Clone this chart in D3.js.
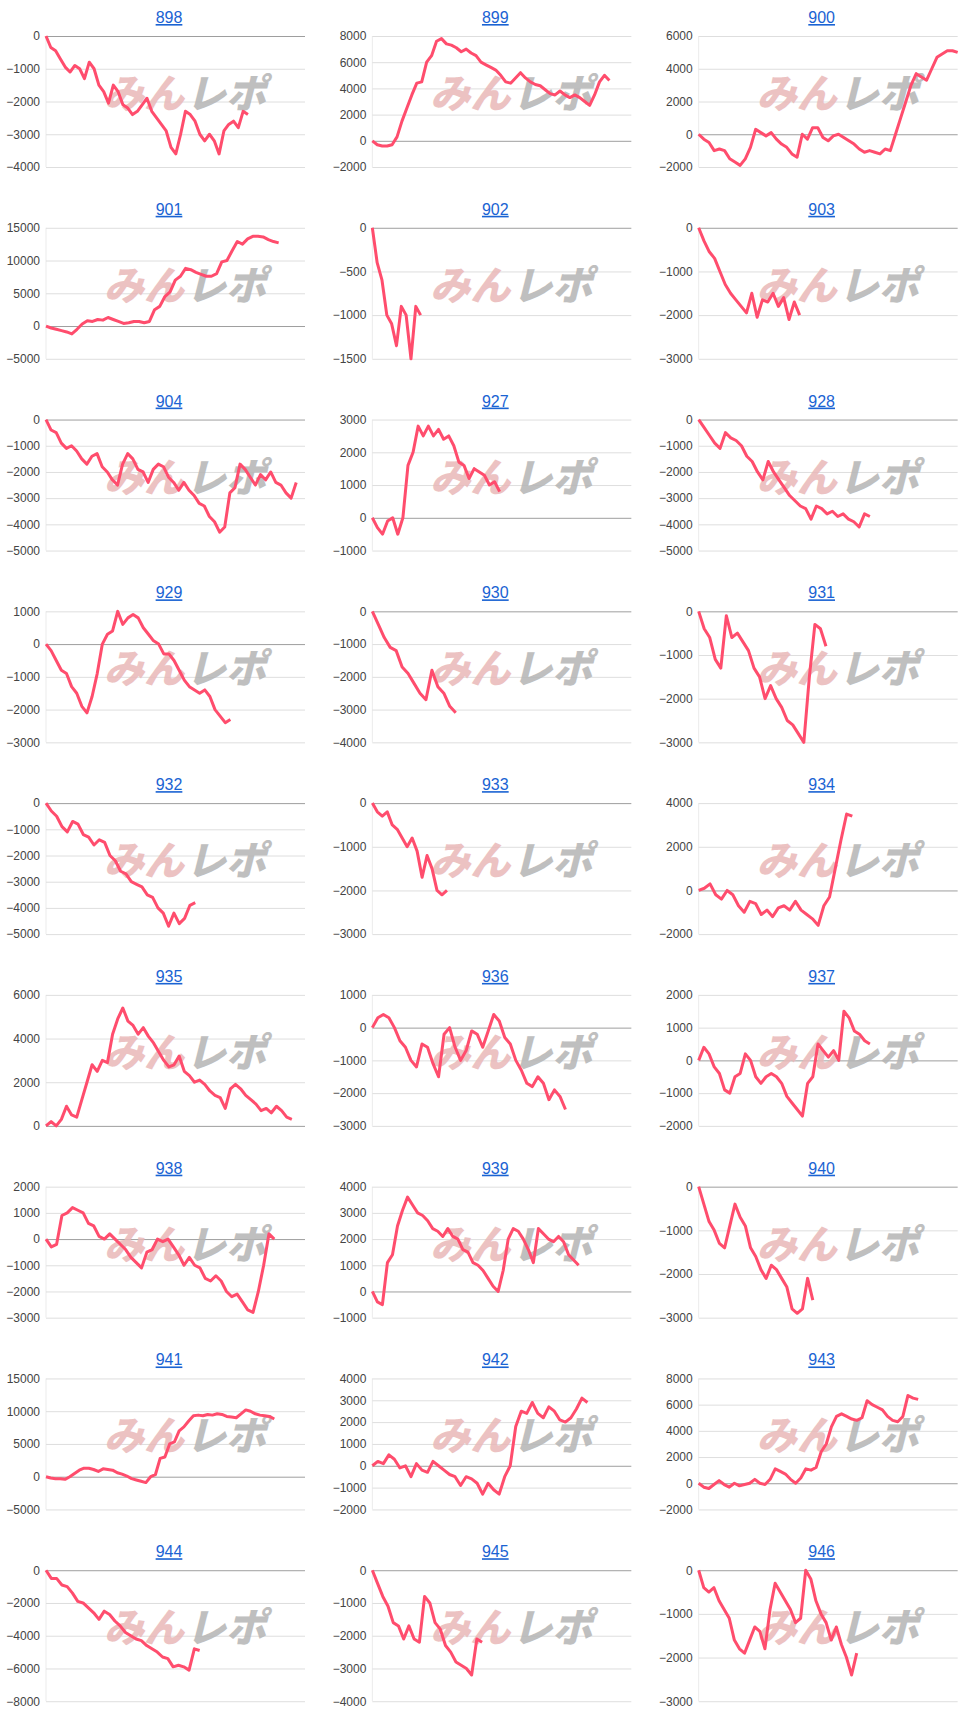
<!DOCTYPE html>
<html><head><meta charset="utf-8">
<script src="https://cdn.jsdelivr.net/npm/d3@7"></script>
<style>body{margin:0;background:#fff}svg{display:block}</style>
</head><body>
<script>
const titles=["898","899","900","901","902","903","904","927","928","929","930","931","932","933","934","935","936","937","938","939","940","941","942","943","944","945","946"];
const yDomains=[[-4000,0],[-2000,8000],[-2000,6000],[-5000,15000],[-1500,0],[-3000,0],[-5000,0],[-1000,3000],[-5000,0],[-3000,1000],[-4000,0],[-3000,0],[-5000,0],[-3000,0],[-2000,4000],[0,6000],[-3000,1000],[-2000,2000],[-3000,2000],[-1000,4000],[-3000,0],[-5000,15000],[-2000,4000],[-2000,8000],[-8000,0],[-4000,0],[-3000,0]];
const tickSteps=[1000,2000,2000,5000,500,1000,1000,1000,1000,1000,1000,1000,1000,1000,2000,2000,1000,1000,1000,1000,1000,5000,1000,2000,2000,1000,1000];
const lastSlot=[46,54,59,53,11,23,57,29,39,42,19,29,34,17,35,56,44,39,52,47,26,52,49,50,35,25,36];
const series=[
[0,-350,-450,-700,-950,-1100,-900,-1000,-1300,-800,-1000,-1500,-1700,-2050,-1500,-1700,-2100,-2200,-2400,-2300,-2100,-1900,-2300,-2500,-2700,-2900,-3400,-3600,-3000,-2300,-2400,-2600,-3000,-3200,-3000,-3200,-3600,-2900,-2700,-2600,-2800,-2300,-2400],
[0,-300,-400,-400,-300,300,1500,2500,3500,4400,4500,6000,6500,7600,7800,7400,7300,7100,6800,7000,6700,6500,6000,5800,5600,5400,5000,4500,4400,4800,5200,4800,4500,4300,4200,3900,3600,3500,3800,3500,3300,3500,3300,3000,2700,3500,4500,5000,4600],
[0,-300,-500,-1000,-900,-1000,-1500,-1700,-1900,-1500,-800,300,100,-100,100,-300,-600,-800,-1200,-1400,0,-300,400,400,-200,-400,-100,0,-200,-400,-600,-900,-1100,-1000,-1100,-1200,-900,-1000,0,1000,2000,3000,3700,3500,3300,4000,4700,4900,5100,5100,5000],
[0,-300,-500,-700,-900,-1200,-500,300,800,700,1000,900,1300,1000,700,400,500,700,700,500,700,2500,3000,4500,5200,7000,7600,8800,8600,8200,7900,7600,7600,8000,9800,10000,11500,12900,12500,13300,13700,13700,13600,13200,12900,12700],
[0,-400,-600,-1000,-1100,-1350,-900,-1000,-1500,-900,-1000],
[0,-300,-550,-700,-1000,-1300,-1500,-1650,-1800,-1950,-1500,-2050,-1650,-1700,-1500,-1800,-1600,-2100,-1700,-2000],
[0,-400,-500,-900,-1100,-1000,-1200,-1500,-1700,-1400,-1300,-1800,-2000,-2300,-2500,-1700,-1300,-1500,-1900,-2000,-2400,-1900,-1700,-1800,-2200,-2400,-2700,-2400,-2700,-2900,-3200,-3300,-3700,-3900,-4300,-4100,-2800,-2600,-1700,-1900,-2200,-2500,-2100,-2300,-2000,-2400,-2500,-2800,-3000,-2400],
[0,-300,-500,-100,0,-500,0,1600,2000,2800,2500,2800,2500,2700,2400,2500,2200,1700,1600,1200,1500,1400,1300,1000,1100,800],
[0,-300,-600,-900,-1100,-500,-700,-800,-1000,-1400,-1600,-2000,-2300,-1600,-2000,-2300,-2600,-2900,-3100,-3300,-3400,-3800,-3300,-3400,-3600,-3500,-3700,-3600,-3800,-3900,-4100,-3600,-3700],
[0,-200,-500,-800,-900,-1300,-1500,-1900,-2100,-1600,-900,0,300,400,1000,600,800,900,800,500,300,100,0,-300,-300,-500,-800,-1100,-1300,-1400,-1500,-1400,-1600,-2000,-2200,-2400,-2300],
[0,-400,-800,-1100,-1200,-1700,-1900,-2200,-2500,-2700,-1800,-2300,-2500,-2900,-3100],
[0,-400,-600,-1100,-1300,-100,-600,-500,-700,-900,-1300,-1500,-2000,-1700,-2000,-2200,-2500,-2600,-2800,-3000,-1500,-300,-400,-800],
[0,-300,-500,-900,-1100,-700,-800,-1200,-1300,-1600,-1400,-1500,-2000,-2200,-2600,-2700,-3000,-3100,-3200,-3500,-3600,-4000,-4200,-4700,-4200,-4600,-4400,-3900,-3800],
[0,-200,-300,-200,-500,-600,-800,-1000,-800,-1100,-1700,-1200,-1500,-2000,-2100,-2000],
[0,100,300,-200,-400,0,-200,-700,-1000,-500,-600,-1100,-900,-1200,-800,-700,-900,-500,-900,-1100,-1300,-1600,-700,-300,1000,2300,3500,3400],
[0,200,0,300,900,500,400,1200,2000,2800,2500,3000,2900,4200,4900,5400,4800,4600,4200,4500,4100,3800,3400,3000,2700,2800,3200,2500,2300,2000,2100,1900,1600,1400,1300,800,1700,1900,1700,1400,1200,1000,700,800,600,900,700,400,300],
[0,300,400,300,0,-400,-600,-1000,-1200,-500,-600,-1100,-1500,-200,0,-600,-1000,-700,-100,-200,-600,-100,400,200,-300,-500,-1000,-1300,-1700,-1800,-1500,-1700,-2200,-1900,-2100,-2500],
[0,400,200,-200,-400,-900,-1000,-500,-400,200,0,-500,-700,-500,-400,-500,-700,-1100,-1300,-1500,-1700,-700,-500,500,300,100,300,0,1500,1300,900,800,600,500],
[0,-300,-200,900,1000,1200,1100,1000,600,500,100,0,200,0,-200,-400,-700,-900,-1100,-500,-400,0,-100,0,-300,-600,-1000,-700,-1000,-1100,-1500,-1600,-1400,-1600,-2000,-2200,-2100,-2400,-2700,-2800,-2000,-1000,200,0],
[0,-400,-500,1100,1400,2500,3100,3600,3300,3000,2900,2700,2400,2300,2100,2400,2100,2000,1600,1500,1100,1000,800,500,200,0,800,2000,2400,2300,2000,1600,1100,2400,2200,2000,1900,2100,1900,1400,1200,1000],
[0,-400,-800,-1000,-1300,-1400,-900,-400,-700,-900,-1400,-1600,-1900,-2100,-1800,-1900,-2100,-2300,-2800,-2900,-2800,-2100,-2600],
[0,-200,-300,-300,-400,0,500,1000,1300,1300,1100,800,1200,1100,1000,600,400,100,-300,-500,-700,-900,0,300,2800,3000,5000,5300,7000,7600,8500,9300,9400,9300,9500,9400,9600,9500,9200,9100,9000,9600,10200,10000,9600,9400,9300,9200,8800],
[0,200,100,500,300,-100,0,-500,100,-200,-300,200,0,-200,-400,-500,-900,-500,-600,-800,-1300,-800,-1100,-1300,-500,0,1800,2500,2400,2900,2400,2200,2700,2500,2100,2000,2200,2600,3100,2900],
[0,-300,-400,-100,200,-100,-300,0,-200,-100,0,300,0,-100,300,1100,900,700,300,0,400,1100,1000,1200,2400,3000,4300,5100,5300,5100,4900,4800,5000,6300,6000,5800,5600,5100,4800,4700,5100,6700,6500,6400],
[0,-500,-500,-900,-1000,-1400,-1900,-2000,-2300,-2600,-3000,-2500,-2700,-3100,-3400,-3800,-4000,-4200,-4300,-4600,-4800,-5000,-5300,-5400,-5900,-5800,-5900,-6100,-4800,-4900],
[0,-400,-800,-1100,-1600,-1700,-2100,-1700,-2100,-2200,-800,-1000,-1600,-1800,-2300,-2500,-2800,-2900,-3000,-3200,-2100,-2200],
[0,-400,-500,-400,-700,-900,-1100,-1600,-1800,-1900,-1600,-1300,-1400,-1800,-900,-300,-500,-700,-900,-1200,-1100,0,-200,-700,-1000,-1200,-1600,-1300,-1700,-2000,-2400,-1900]
];

(function(){
const W=979,H=1726,colW=W/3,rowH=H/9;
const svg=d3.select("body").append("svg").attr("width",W).attr("height",H);
const pL=46,pR=305,pT=36,pB=167;
const x=d3.scaleLinear().domain([0,59]).range([pL,pR]);
titles.forEach((t,k)=>{
  const g=svg.append("g").attr("transform",`translate(${(k%3)*colW},${Math.floor(k/3)*rowH})`);
  const y=d3.scaleLinear().domain(yDomains[k]).range([pB,pT]);
  const ticks=d3.range(yDomains[k][0],yDomains[k][1]+1,tickSteps[k]);
  g.append("line").attr("x1",pL).attr("x2",pL).attr("y1",pT).attr("y2",pB).attr("stroke","#ebebeb");
  const ax=g.append("g").attr("transform",`translate(${pL},0)`)
    .call(d3.axisLeft(y).tickValues(ticks).tickSize(-(pR-pL)).tickFormat(d3.format("d")).tickPadding(6));
  ax.select(".domain").remove();
  ax.selectAll(".tick line").attr("stroke",d=>d===0?"#9e9e9e":"#dedede");
  ax.selectAll(".tick text").attr("fill","#444").attr("font-size",12).attr("font-family","Arial, 'Liberation Sans', sans-serif");
  const wm=g.append("g").attr("opacity",0.85).attr("font-family","'Noto Sans CJK JP'").attr("font-weight",900).attr("font-style","italic").attr("font-size",40);
  wm.append("text").attr("x",104).attr("y",108).attr("fill","#e9b8b8").text("みん");
  wm.append("text").attr("x",186).attr("y",108).attr("fill","#b5b5b5").text("レポ");
  const data=series[k], n=data.length, s=lastSlot[k]/(n-1);
  g.append("path").datum(data).attr("fill","none").attr("stroke","#ff4d6d").attr("stroke-width",3).attr("stroke-linejoin","round")
    .attr("d",d3.line().x((d,i)=>x(i*s)).y(d=>y(d)));
  g.append("text").attr("x",169).attr("y",23).attr("text-anchor","middle").attr("fill","#1a63d3").attr("font-size",16)
    .attr("font-family","Arial, 'Liberation Sans', sans-serif").attr("text-decoration","underline").text(t);
});
})();
</script>
</body></html>
